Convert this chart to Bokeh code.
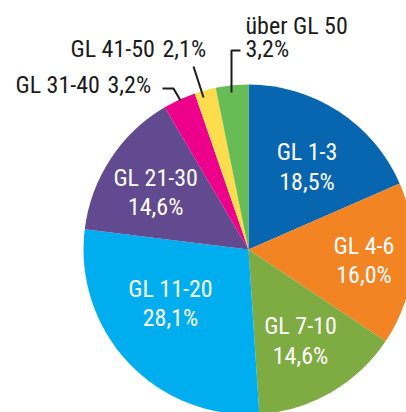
import math
from bokeh.plotting import figure
from bokeh.models import Range1d, ColumnDataSource
from bokeh.core.properties import value
from bokeh.embed import file_html
from bokeh.resources import INLINE

# ---- data ----
categories = ["GL 1-3", "GL 4-6", "GL 7-10", "GL 11-20", "GL 21-30",
              "GL 31-40", "GL 41-50", "über GL 50"]
shares = [18.5, 16.0, 14.6, 28.1, 14.6, 3.2, 2.1, 3.2]
share_labels = ["18,5%", "16,0%", "14,6%", "28,1%", "14,6%", "3,2%", "2,1%", "3,2%"]
colors = ["#0866B0", "#F28423", "#7EAB42", "#00AEEF", "#614A90",
          "#EC008C", "#FDDD4E", "#67BC55"]

# ---- layout (page pixel frame) ----
W, H = 406, 412
def px(x):
    return x
def py(y):
    return H - y

cx, cy, R = 248, 249, 165
FONT = "Roboto Condensed"
FS = "24px"

p = figure(width=W, height=H, output_backend="svg", toolbar_location=None,
           x_range=Range1d(0, W), y_range=Range1d(0, H),
           min_border=0, outline_line_color=None)
p.axis.visible = False
p.grid.visible = False
p.background_fill_color = "white"
p.border_fill_color = "white"

total = sum(shares)
starts, ends, mids = [], [], []
a = 90.0
for s in shares:
    span = s / total * 360.0
    starts.append(a)
    ends.append(a - span)
    mids.append(a - span / 2)
    a -= span

src = ColumnDataSource(dict(
    start=[math.radians(v) for v in starts],
    end=[math.radians(v) for v in ends],
    color=colors))
p.wedge(x=px(cx), y=py(cy), radius=R, radius_units="data",
        start_angle="start", end_angle="end", direction="clock",
        fill_color="color", line_color=None, source=src)

# inside labels (first five slices)
label_shift = [-2.2, -0.4, -0.3, -8.6, 1.7]
label_dist = [101, 116, 105, 95, 109]
lx, ly, lt = [], [], []
for i in range(5):
    ang = math.radians(mids[i] + label_shift[i])
    lx.append(px(cx + label_dist[i] * math.cos(ang)))
    ly.append(py(cy - label_dist[i] * math.sin(ang)))
    lt.append(categories[i] + "\n" + share_labels[i])
p.text(x=lx, y=ly, text=lt, text_align="center", text_baseline="middle",
       text_color="white", text_font=value(FONT), text_font_size=FS,
       text_line_height=1.06)

# outside labels
out_name_pos = [(15, 84.5), (70, 48.5), (245, 25)]
out_val_pos = [(107, 84.5), (162, 48.5), (245, 48.5)]
ox, oy, ot = [], [], []
for k, i in enumerate([5, 6, 7]):
    ox += [px(out_name_pos[k][0]), px(out_val_pos[k][0])]
    oy += [py(out_name_pos[k][1]), py(out_val_pos[k][1])]
    ot += [categories[i], share_labels[i]]
p.text(x=ox, y=oy, text=ot, text_align="left", text_baseline="middle",
       text_color="#1a1a1a", text_font=value(FONT), text_font_size=FS)

# leader lines
leaders = [
    [(162, 88), (173, 88), (180, 100)],
    [(193, 66), (203, 97)],
    [(240, 50), (231, 50), (231, 92)],
]
p.multi_line(xs=[[px(q[0]) for q in L] for L in leaders],
             ys=[[py(q[1]) for q in L] for L in leaders],
             line_color="#1a1a1a", line_width=2)

open("out.html", "w").write(file_html(p, INLINE))
